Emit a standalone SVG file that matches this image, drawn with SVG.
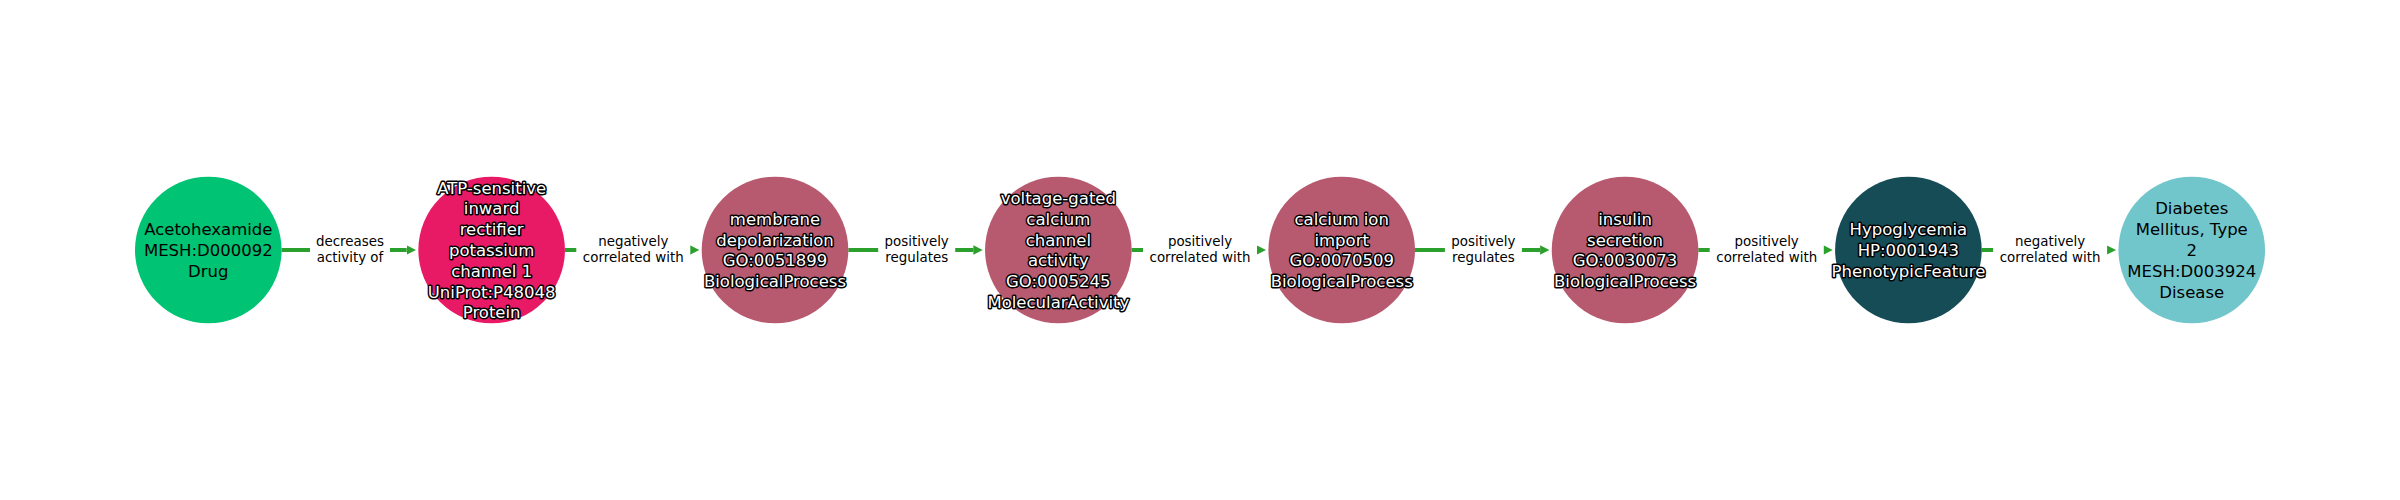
<svg xmlns="http://www.w3.org/2000/svg" width="2400" height="500" viewBox="0 0 2400 500">
<style>
.node-label{font-family:"DejaVu Sans",sans-serif;font-size:16.5px;text-anchor:middle}
.light{fill:#000}
.dark{fill:#fff;stroke:#000;stroke-width:3;stroke-linejoin:round;paint-order:stroke fill}
.edge{stroke:#2ca02c;stroke-width:4;fill:none}
.elabel{font-family:"DejaVu Sans",sans-serif;font-size:13.4px;text-anchor:middle;fill:#000}
.lbox{fill:#fff;stroke:none}
</style>
<defs>
<marker id="arrow" markerUnits="userSpaceOnUse" markerWidth="10" markerHeight="10" refX="0" refY="5" orient="auto">
<path d="M0,0.35 L9.3,5 L0,9.65 Z" fill="#2ca02c"/>
</marker>
</defs>
<rect width="2400" height="500" fill="#fff"/>
<g id="connectors">
<line class="edge" x1="281.6" y1="250" x2="406.7" y2="250" marker-end="url(#arrow)"/>
<line class="edge" x1="564.9" y1="250" x2="690" y2="250" marker-end="url(#arrow)"/>
<line class="edge" x1="848.3" y1="250" x2="973.4" y2="250" marker-end="url(#arrow)"/>
<line class="edge" x1="1131.6" y1="250" x2="1256.7" y2="250" marker-end="url(#arrow)"/>
<line class="edge" x1="1415" y1="250" x2="1540.1" y2="250" marker-end="url(#arrow)"/>
<line class="edge" x1="1698.3" y1="250" x2="1823.4" y2="250" marker-end="url(#arrow)"/>
<line class="edge" x1="1981.7" y1="250" x2="2106.8" y2="250" marker-end="url(#arrow)"/>
<rect class="lbox" x="310" y="230" width="80" height="40"/>
<text class="elabel" x="350" y="245.8">decreases</text>
<text class="elabel" x="350" y="261.5">activity of</text>
<rect class="lbox" x="576.3" y="230" width="114" height="40"/>
<text class="elabel" x="633.3" y="245.8">negatively</text>
<text class="elabel" x="633.3" y="261.5">correlated with</text>
<rect class="lbox" x="878.2" y="230" width="77" height="40"/>
<text class="elabel" x="916.7" y="245.8">positively</text>
<text class="elabel" x="916.7" y="261.5">regulates</text>
<rect class="lbox" x="1143" y="230" width="114" height="40"/>
<text class="elabel" x="1200" y="245.8">positively</text>
<text class="elabel" x="1200" y="261.5">correlated with</text>
<rect class="lbox" x="1444.9" y="230" width="77" height="40"/>
<text class="elabel" x="1483.4" y="245.8">positively</text>
<text class="elabel" x="1483.4" y="261.5">regulates</text>
<rect class="lbox" x="1709.7" y="230" width="114" height="40"/>
<text class="elabel" x="1766.7" y="245.8">positively</text>
<text class="elabel" x="1766.7" y="261.5">correlated with</text>
<rect class="lbox" x="1993.1" y="230" width="114" height="40"/>
<text class="elabel" x="2050.1" y="245.8">negatively</text>
<text class="elabel" x="2050.1" y="261.5">correlated with</text>
</g>
<g id="node-acetohexamide">
<circle cx="208.3" cy="250" r="73.3" fill="#00c373"/>
<text class="node-label light" x="208.3"><tspan x="208.3" y="235.2">Acetohexamide</tspan><tspan x="208.3" y="256">MESH:D000092</tspan><tspan x="208.3" y="276.8">Drug</tspan></text>
</g>
<g id="node-atp-channel">
<circle cx="491.65" cy="250" r="73.3" fill="#e81a66"/>
<text class="node-label dark" x="491.65"><tspan x="491.65" y="193.6">ATP-sensitive</tspan><tspan x="491.65" y="214.4">inward</tspan><tspan x="491.65" y="235.2">rectifier</tspan><tspan x="491.65" y="256">potassium</tspan><tspan x="491.65" y="276.8">channel 1</tspan><tspan x="491.65" y="297.6">UniProt:P48048</tspan><tspan x="491.65" y="318.4">Protein</tspan></text>
</g>
<g id="node-membrane-depolarization">
<circle cx="775" cy="250" r="73.3" fill="#b75a70"/>
<text class="node-label dark" x="775"><tspan x="775" y="224.8">membrane</tspan><tspan x="775" y="245.6">depolarization</tspan><tspan x="775" y="266.4">GO:0051899</tspan><tspan x="775" y="287.2">BiologicalProcess</tspan></text>
</g>
<g id="node-vgcc-activity">
<circle cx="1058.35" cy="250" r="73.3" fill="#b75a70"/>
<text class="node-label dark" x="1058.35"><tspan x="1058.35" y="204">voltage-gated</tspan><tspan x="1058.35" y="224.8">calcium</tspan><tspan x="1058.35" y="245.6">channel</tspan><tspan x="1058.35" y="266.4">activity</tspan><tspan x="1058.35" y="287.2">GO:0005245</tspan><tspan x="1058.35" y="308">MolecularActivity</tspan></text>
</g>
<g id="node-calcium-import">
<circle cx="1341.7" cy="250" r="73.3" fill="#b75a70"/>
<text class="node-label dark" x="1341.7"><tspan x="1341.7" y="224.8">calcium ion</tspan><tspan x="1341.7" y="245.6">import</tspan><tspan x="1341.7" y="266.4">GO:0070509</tspan><tspan x="1341.7" y="287.2">BiologicalProcess</tspan></text>
</g>
<g id="node-insulin-secretion">
<circle cx="1625.05" cy="250" r="73.3" fill="#b75a70"/>
<text class="node-label dark" x="1625.05"><tspan x="1625.05" y="224.8">insulin</tspan><tspan x="1625.05" y="245.6">secretion</tspan><tspan x="1625.05" y="266.4">GO:0030073</tspan><tspan x="1625.05" y="287.2">BiologicalProcess</tspan></text>
</g>
<g id="node-hypoglycemia">
<circle cx="1908.4" cy="250" r="73.3" fill="#164c56"/>
<text class="node-label dark" x="1908.4"><tspan x="1908.4" y="235.2">Hypoglycemia</tspan><tspan x="1908.4" y="256">HP:0001943</tspan><tspan x="1908.4" y="276.8">PhenotypicFeature</tspan></text>
</g>
<g id="node-diabetes">
<circle cx="2191.75" cy="250" r="73.3" fill="#71c6cc"/>
<text class="node-label light" x="2191.75"><tspan x="2191.75" y="214.4">Diabetes</tspan><tspan x="2191.75" y="235.2">Mellitus, Type</tspan><tspan x="2191.75" y="256">2</tspan><tspan x="2191.75" y="276.8">MESH:D003924</tspan><tspan x="2191.75" y="297.6">Disease</tspan></text>
</g>
</svg>
